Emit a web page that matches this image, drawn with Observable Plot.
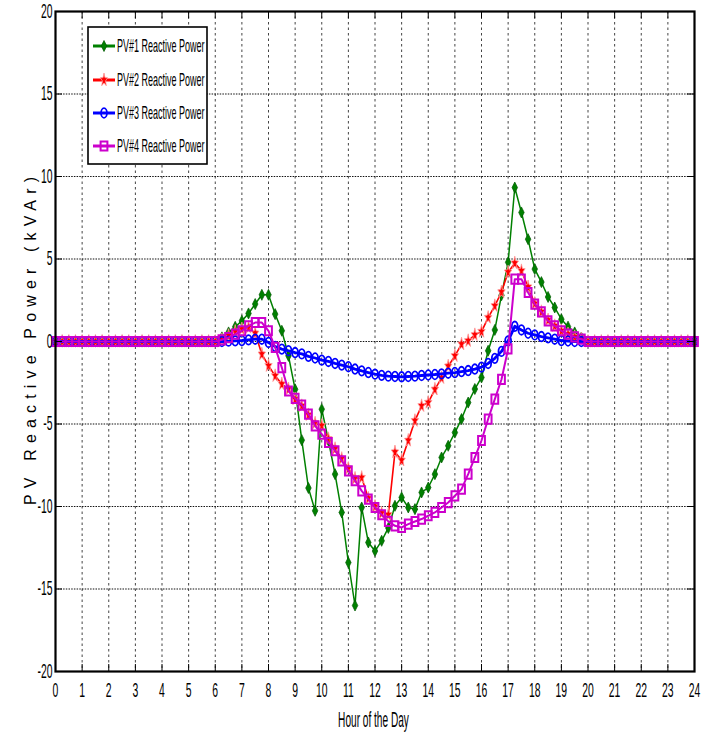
<!DOCTYPE html>
<html>
<head>
<meta charset="utf-8">
<script src="https://cdn.jsdelivr.net/npm/d3@7"></script>
<script src="https://cdn.jsdelivr.net/npm/@observablehq/plot@0.6"></script>
<style>
  html, body { margin: 0; padding: 0; background: #fff; overflow: hidden; }
  #chart { position: relative; width: 713px; height: 736px; }
</style>
</head>
<body>
<div id="chart"></div>
<script>
// ---------- data ----------
const hours = [0,0.25,0.5,0.75,1,1.25,1.5,1.75,2,2.25,2.5,2.75,3,3.25,3.5,3.75,4,4.25,4.5,4.75,5,5.25,5.5,5.75,
  6,6.25,6.5,6.75,7,7.25,7.5,7.75,8,8.25,8.5,8.75,9,9.25,9.5,9.75,10,10.25,10.5,10.75,11,11.25,11.5,11.75,
  12,12.25,12.5,12.75,13,13.25,13.5,13.75,14,14.25,14.5,14.75,15,15.25,15.5,15.75,16,16.25,16.5,16.75,17,17.25,17.5,17.75,
  18,18.25,18.5,18.75,19,19.25,19.5,19.75,20,20.25,20.5,20.75,21,21.25,21.5,21.75,22,22.25,22.5,22.75,23,23.25,23.5,23.75,24];

const pv1 = [0,0,0,0,0,0,0,0,0,0,0,0,0,0,0,0,0,0,0,0,0,0,0,0,
  0.05,0.25,0.55,0.89,1.25,1.70,2.27,2.83,2.83,1.66,0.65,-0.87,-2.9,-5.98,-8.88,-10.26,-4.10,-6.0,-8.04,-10.36,-13.4,-16.0,-10.06,-12.18,
  -12.7,-12.08,-11.3,-9.96,-9.45,-10.06,-10.16,-9.15,-8.85,-8.04,-7.03,-6.32,-5.52,-4.70,-3.70,-2.88,-2.18,-0.56,0.7,2.8,4.8,9.33,7.82,6.2,
  4.39,3.6,2.7,2.06,1.35,0.9,0.55,0.24,0,0,0,0,0,0,0,0,0,0,0,0,0,0,0,0,0];

const pv2 = [0,0,0,0,0,0,0,0,0,0,0,0,0,0,0,0,0,0,0,0,0,0,0,0,
  0,0.1,0.35,0.6,0.75,0.85,0.5,-0.77,-1.47,-2.08,-2.58,-2.88,-3.49,-3.9,-4.45,-4.95,-5.1,-5.9,-6.5,-7.1,-7.7,-8.3,-8.25,-9.5,
  -10.0,-10.4,-10.5,-6.7,-7.2,-6.0,-4.8,-3.9,-3.7,-2.9,-2.2,-1.5,-0.87,-0.16,0.04,0.4,0.6,1.45,2.16,3.0,4.2,4.75,4.28,3.3,
  2.3,1.8,1.3,0.95,0.65,0.45,0.28,0.14,0,0,0,0,0,0,0,0,0,0,0,0,0,0,0,0,0];

const pv3 = [0,0,0,0,0,0,0,0,0,0,0,0,0,0,0,0,0,0,0,0,0,0,0,0,
  0,0,0.02,0.04,0.06,0.1,0.14,0.14,-0.06,-0.3,-0.46,-0.56,-0.67,-0.75,-0.9,-1.0,-1.13,-1.21,-1.33,-1.43,-1.53,-1.67,-1.78,-1.88,
  -1.98,-2.05,-2.1,-2.12,-2.14,-2.12,-2.1,-2.06,-2.03,-2.0,-1.96,-1.92,-1.88,-1.82,-1.76,-1.67,-1.55,-1.33,-1.02,-0.6,0.04,0.92,0.7,0.5,
  0.4,0.3,0.22,0.14,0.06,0.03,0,0,0,0,0,0,0,0,0,0,0,0,0,0,0,0,0,0,0];

const pv4 = [0,0,0,0,0,0,0,0,0,0,0,0,0,0,0,0,0,0,0,0,0,0,0,0,
  0,0.1,0.24,0.45,0.65,0.95,1.15,1.15,0.65,-0.36,-1.58,-3.0,-3.45,-3.85,-4.4,-5.11,-5.61,-6.12,-6.62,-7.23,-7.84,-8.44,-9.05,-9.55,
  -10.06,-10.5,-10.9,-11.17,-11.27,-11.07,-10.91,-10.76,-10.56,-10.36,-10.06,-9.76,-9.35,-8.95,-8.04,-7.03,-6.0,-4.70,-3.49,-2.3,-0.45,3.78,3.78,2.97,
  2.27,1.8,1.25,0.95,0.65,0.45,0.28,0.14,0,0,0,0,0,0,0,0,0,0,0,0,0,0,0,0,0];

const seriesNames = ["PV#1 Reactive Power", "PV#2 Reactive Power", "PV#3 Reactive Power", "PV#4 Reactive Power"];
const seriesColors = ["#008000", "#ff0000", "#0000ff", "#cc00cc"];
const xTicks = [0,1,2,3,4,5,6,7,8,9,10,11,12,13,14,15,16,17,18,19,20,21,22,23,24];
const yTicks = [-20,-15,-10,-5,0,5,10,15,20];
const xLabel = "Hour of the Day";
const yLabel = "PV Reactive Power (kVAr)";

// ---------- marker shapes (MATLAB-like, vertically stretched) ----------
const rOf = size => Math.sqrt(size / Math.PI);
const diamondSym = { draw(c, size) { const r = rOf(size);
  c.moveTo(0, -r * 1.2); c.lineTo(r * 0.6, 0); c.lineTo(0, r * 1.2); c.lineTo(-r * 0.6, 0); c.closePath(); } };
const starSym = { draw(c, size) { const r = rOf(size);
  for (let k = 0; k < 10; k++) {
    const a = -Math.PI / 2 + k * Math.PI / 5;
    const rr = k % 2 === 0 ? r : r * 0.42;
    const px = Math.cos(a) * rr * 0.7, py = Math.sin(a) * rr * 1.25;
    if (k === 0) c.moveTo(px, py); else c.lineTo(px, py);
  }
  c.closePath(); } };
const ovalSym = { draw(c, size) { const r = rOf(size);
  const rx = r * 0.62, ry = r * 1.0, k = 0.5523;
  c.moveTo(rx, 0);
  c.bezierCurveTo(rx, ry * k, rx * k, ry, 0, ry);
  c.bezierCurveTo(-rx * k, ry, -rx, ry * k, -rx, 0);
  c.bezierCurveTo(-rx, -ry * k, -rx * k, -ry, 0, -ry);
  c.bezierCurveTo(rx * k, -ry, rx, -ry * k, rx, 0);
  c.closePath(); } };
const squareSym = { draw(c, size) { const r = rOf(size);
  const w = r * 0.68, h = r * 0.92;
  c.moveTo(-w, -h); c.lineTo(w, -h); c.lineTo(w, h); c.lineTo(-w, h); c.closePath(); } };

const styles = [
  { sym: diamondSym, r: 4.6, lw: 1.5, fill: "#008000", stroke: "#005a00", sw: 0.7 },
  { sym: starSym,    r: 5.6, lw: 1.6, fill: "#ff0000", stroke: "#ff9a9a", sw: 0.8 },
  { sym: ovalSym,    r: 4.8, lw: 2.8, fill: "none",    stroke: "#0000ff", sw: 1.8 },
  { sym: squareSym,  r: 5.0, lw: 2.0, fill: "none",    stroke: "#cc00cc", sw: 2.0 }
];

const allSeries = [pv1, pv2, pv3, pv4].map((vals, s) => hours.map((h, i) => ({ h, v: vals[i], s })));

// ---------- chart ----------
const W = 713, H = 736, ML = 55, MR = 19, MT = 11, MB = 65;
const innerW = W - ML - MR, innerH = H - MT - MB, tickLen = 7;

const marks = [
  Plot.gridX(xTicks.slice(1, -1), { stroke: "#444", strokeOpacity: 1, strokeWidth: 1, strokeDasharray: "2.5,3" }),
  Plot.gridY(yTicks.slice(1, -1), { stroke: "#111", strokeOpacity: 1, strokeWidth: 1.2, strokeDasharray: "1.5,1.2" })
];
allSeries.forEach((data, s) => {
  const st = styles[s];
  marks.push(Plot.line(data, { x: "h", y: "v", stroke: seriesColors[s], strokeWidth: st.lw }));
  marks.push(Plot.dot(data, { x: "h", y: "v", symbol: st.sym, r: st.r, fill: st.fill, stroke: st.stroke, strokeWidth: st.sw }));
});
marks.push(
  Plot.tickX(xTicks, { x: d => d, insetTop: innerH - tickLen, stroke: "black", strokeWidth: 1 }),
  Plot.tickX(xTicks, { x: d => d, insetBottom: innerH - tickLen, stroke: "black", strokeWidth: 1 }),
  Plot.tickY(yTicks, { y: d => d, insetRight: innerW - tickLen, stroke: "black", strokeWidth: 1 }),
  Plot.tickY(yTicks, { y: d => d, insetLeft: innerW - tickLen, stroke: "black", strokeWidth: 1 }),
  Plot.frame({ stroke: "black", strokeWidth: 2.2 }),
  Plot.axisX(xTicks, { tickSize: 0, tickPadding: 11, label: null, tickFormat: d => String(d), fontSize: 20 }),
  Plot.axisY(yTicks, { tickSize: 0, tickPadding: 3, label: null, tickFormat: d => String(d), fontSize: 20 })
);

const svg = Plot.plot({
  width: W, height: H,
  marginLeft: ML, marginRight: MR, marginTop: MT, marginBottom: MB,
  x: { domain: [0, 24] },
  y: { domain: [-20, 20] },
  style: { fontFamily: "'Liberation Sans', Arial, sans-serif", background: "white", color: "black", overflow: "visible" },
  marks
});
document.getElementById("chart").appendChild(svg);

// narrow, tall lettering like the original
function squeeze(el, k, mode) {
  const b = el.getBBox();
  const ax = mode === "start" ? b.x : mode === "end" ? b.x + b.width : b.x + b.width / 2;
  const prev = el.getAttribute("transform") || "";
  el.setAttribute("transform", `${prev} translate(${ax},0) scale(${k},1) translate(${-ax},0)`);
}
svg.querySelectorAll('g[aria-label="x-axis tick label"] text').forEach(t => squeeze(t, 0.52, "middle"));
svg.querySelectorAll('g[aria-label="y-axis tick label"] text').forEach(t => squeeze(t, 0.52, "end"));

const root = d3.select(svg);
// x axis title
const xt = root.append("text").attr("x", ML + innerW / 2 - 1).attr("y", 727)
  .attr("text-anchor", "middle").attr("font-size", 22).attr("fill", "black").text(xLabel);
squeeze(xt.node(), 0.46, "middle");
// y axis title
root.append("text").attr("transform", `translate(36,${MT + innerH / 2}) rotate(-90)`)
  .attr("text-anchor", "middle").attr("font-size", 16).attr("fill", "black")
  .attr("textLength", 328).attr("lengthAdjust", "spacing").text(yLabel);

// legend (inside the axes, top-left)
const lg = root.append("g").attr("class", "legend").attr("text-anchor", "start");
lg.append("rect").attr("x", 88).attr("y", 27).attr("width", 119).attr("height", 137)
  .attr("fill", "white").attr("stroke", "black").attr("stroke-width", 1.6);
const rowY = [46, 80, 113, 146];
seriesNames.forEach((name, s) => {
  const st = styles[s], y = rowY[s];
  lg.append("line").attr("x1", 93).attr("x2", 115).attr("y1", y).attr("y2", y)
    .attr("stroke", seriesColors[s]).attr("stroke-width", 3);
  lg.append("path").attr("transform", `translate(104,${y})`)
    .attr("d", d3.symbol().type(st.sym).size(Math.PI * st.r * st.r)())
    .attr("fill", st.fill).attr("stroke", st.stroke).attr("stroke-width", st.sw);
  const t = lg.append("text").attr("x", 117).attr("y", y).attr("dy", "0.36em")
    .attr("text-anchor", "start").attr("font-size", 18).attr("fill", "black").text(name);
  squeeze(t.node(), 0.5, "start");
});
</script>
</body>
</html>
